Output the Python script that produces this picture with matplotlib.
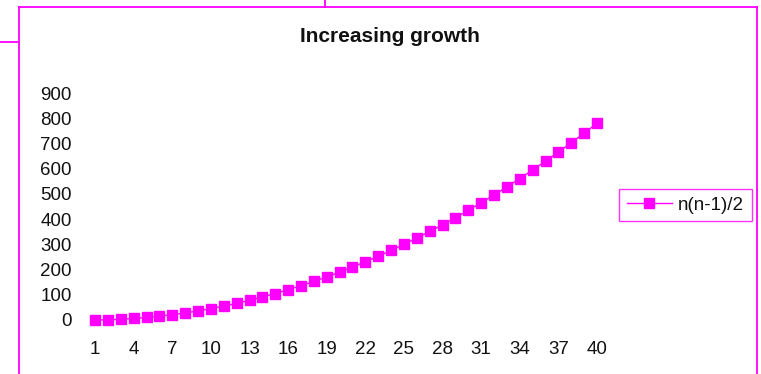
import matplotlib
matplotlib.use("Agg")
import matplotlib.pyplot as plt
from matplotlib.lines import Line2D

categories = list(range(1, 41))
values = [0, 1, 3, 6, 10, 15, 21, 28, 36, 45, 55, 66, 78, 91, 105, 120, 136, 153,
          171, 190, 210, 231, 253, 276, 300, 325, 351, 378, 406, 435, 465, 496,
          528, 561, 595, 630, 666, 703, 741, 780]
xtick_labels = [str(c) for c in categories[::3]]
yticks = [0, 100, 200, 300, 400, 500, 600, 700, 800, 900]
series_name = "n(n-1)/2"
title = "Increasing growth"

plt.rcParams['font.family'] = ['Liberation Sans', 'DejaVu Sans']
W, H = 761, 374
fig = plt.figure(figsize=(W / 100, H / 100), dpi=100)
MAG = "#FF00FF"

def fx(px):
    return px / W

def fy(py):
    return 1 - py / H

left, right, top, bottom = 88.6, 603.5, 93, 320
ax = fig.add_axes([fx(left), fy(bottom), fx(right - left), (bottom - top) / H])
ax.plot(categories, values, color=MAG, marker='s', markersize=7.5, lw=1.0,
        clip_on=False, label=series_name)
ax.set_xlim(0.5, 40.5)
ax.set_ylim(0, 900)
ax.set_yticks(yticks)
ax.set_yticklabels([str(v) for v in yticks])
ax.set_xticks(categories[::3])
ax.set_xticklabels(xtick_labels)
for s in ax.spines.values():
    s.set_visible(False)
ax.tick_params(axis='both', length=0, labelsize=13.5, colors='#111111')
ax.tick_params(axis='y', pad=12)
ax.tick_params(axis='x', pad=15)
ax.patch.set_alpha(0)

fig.text(fx(390), fy(36), title, ha='center', va='center', fontsize=15,
         fontweight='bold', color='#111111')

# chart border and stray lines
lw = 1.3
fig.add_artist(Line2D([fx(19), fx(19)], [fy(6.5), fy(376)], color=MAG, lw=lw))
fig.add_artist(Line2D([fx(19), fx(757)], [fy(6.5), fy(6.5)], color=MAG, lw=lw))
fig.add_artist(Line2D([fx(757), fx(757)], [fy(6.5), fy(376)], color=MAG, lw=lw))
fig.add_artist(Line2D([fx(0), fx(19)], [fy(41.5), fy(41.5)], color=MAG, lw=lw))
fig.add_artist(Line2D([fx(325), fx(325)], [fy(0), fy(6.5)], color=MAG, lw=lw))

leg = ax.legend(loc='center left', bbox_to_anchor=(fx(619), fy(205)),
                bbox_transform=fig.transFigure, fontsize=13.5, frameon=True,
                fancybox=False, edgecolor=MAG, handlelength=2.45,
                handletextpad=0.3, borderpad=0.4, borderaxespad=0)
leg.get_frame().set_linewidth(1.0)
for t in leg.get_texts():
    t.set_color('#111111')

fig.savefig("out.png", dpi=100)
